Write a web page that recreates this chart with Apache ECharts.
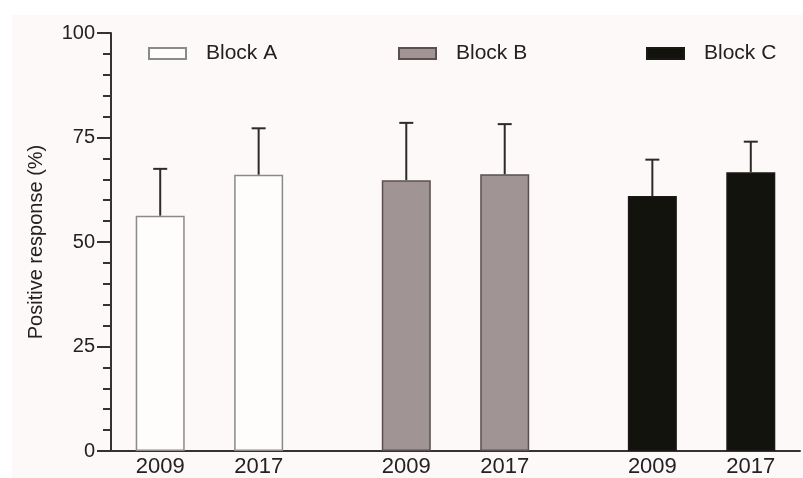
<!DOCTYPE html>
<html>
<head>
<meta charset="utf-8">
<script src="https://cdn.jsdelivr.net/npm/echarts@6/dist/echarts.min.js"></script>
<style>html,body{margin:0;padding:0;background:#fff;}#c{width:803px;height:478px;}</style>
</head>
<body>
<div id="c"></div>
<script>
// x slots: empty strings are spacer slots between the groups
const categories = ['', '2009', '', '2017', '', '', '2009', '', '2017', '', '', '2009', '', '2017', ''];
const blockNames = ['Block A', 'Block B', 'Block C'];
const blockA = [56.3, 66.1];
const blockB = [64.8, 66.2];
const blockC = [61.0, 66.7];
const sdA = [11.2, 11.1];
const sdB = [13.7, 12.0];
const sdC = [8.7, 7.3];
const yTicks = [0, 25, 50, 75, 100];

const means = [blockA, blockB, blockC];
const sds = [sdA, sdB, sdC];
const fills = ['#fffdfc', '#a09494', '#13130e'];
const borders = ['#8a8a8a', '#5a5050', '#1a1a15'];
const legendLefts = [148, 398, 646];

// indexes of the labelled slots, in order
const slots = [];
categories.forEach((c, i) => { if (c !== '') slots.push(i); });

const FONT = 'Liberation Sans, Arial, Helvetica, sans-serif';
const series = [];
const errData = [];
blockNames.forEach((name, b) => {
  const data = categories.map(() => '-');
  means[b].forEach((v, j) => {
    const idx = slots[b * 2 + j];
    data[idx] = v;
    errData.push([idx, v, v + sds[b][j]]);
  });
  series.push({
    name: name,
    type: 'bar',
    data: data,
    barWidth: 49,
    barGap: '-100%',
    itemStyle: { color: fills[b], borderColor: borders[b], borderWidth: 1.5 },
    emphasis: { disabled: true },
    z: 2
  });
});
series.push({
  type: 'custom',
  data: errData,
  z: 5,
  silent: true,
  encode: { x: 0, y: 1 },
  renderItem: function (params, api) {
    const x = api.value(0);
    const p0 = api.coord([x, api.value(1)]);
    const p1 = api.coord([x, api.value(2)]);
    const half = 7;
    const st = { stroke: '#2b2b2b', lineWidth: 2 };
    return {
      type: 'group',
      children: [
        { type: 'line', shape: { x1: p0[0], y1: p0[1], x2: p1[0], y2: p1[1] }, style: st },
        { type: 'line', shape: { x1: p1[0] - half, y1: p1[1], x2: p1[0] + half, y2: p1[1] }, style: st }
      ]
    };
  }
});

const legends = blockNames.map((name, b) => ({
  data: [name],
  left: legendLefts[b],
  top: 43,
  padding: 0,
  itemWidth: 37,
  itemHeight: 11,
  icon: 'rect',
  selectedMode: false,
  textStyle: { fontFamily: FONT, fontSize: 21, color: '#222', padding: [0, 0, 0, 15] }
}));

const chart = echarts.init(document.getElementById('c'), null, { renderer: 'canvas' });
chart.setOption({
  backgroundColor: '#ffffff',
  animation: false,
  textStyle: { fontFamily: FONT },
  graphic: [{
    type: 'rect', left: 12, top: 15, z: -100,
    shape: { width: 791, height: 463 },
    style: { fill: '#fdf9f8' }
  }],
  legend: legends,
  grid: { left: 111, width: 696, top: 33, bottom: 25, containLabel: false },
  xAxis: {
    type: 'category',
    data: categories,
    boundaryGap: false,
    axisLine: { show: true, lineStyle: { color: '#333', width: 2 } },
    axisTick: { show: false },
    axisLabel: { interval: 0, margin: 5, fontSize: 22, color: '#222', fontFamily: FONT },
    splitLine: { show: false }
  },
  yAxis: {
    type: 'value',
    min: yTicks[0],
    max: yTicks[yTicks.length - 1],
    interval: 25,
    name: 'Positive response (%)',
    nameLocation: 'middle',
    nameGap: 65,
    nameTextStyle: { fontSize: 20, color: '#222', fontFamily: FONT },
    axisLine: { show: true, lineStyle: { color: '#333', width: 2 } },
    axisTick: { show: true, length: 14, lineStyle: { color: '#333', width: 2 } },
    minorTick: { show: true, splitNumber: 5, length: 8, lineStyle: { color: '#333', width: 2 } },
    axisLabel: { margin: 16, fontSize: 20, color: '#222', fontFamily: FONT },
    splitLine: { show: false },
    minorSplitLine: { show: false }
  },
  series: series
});
</script>
</body>
</html>
